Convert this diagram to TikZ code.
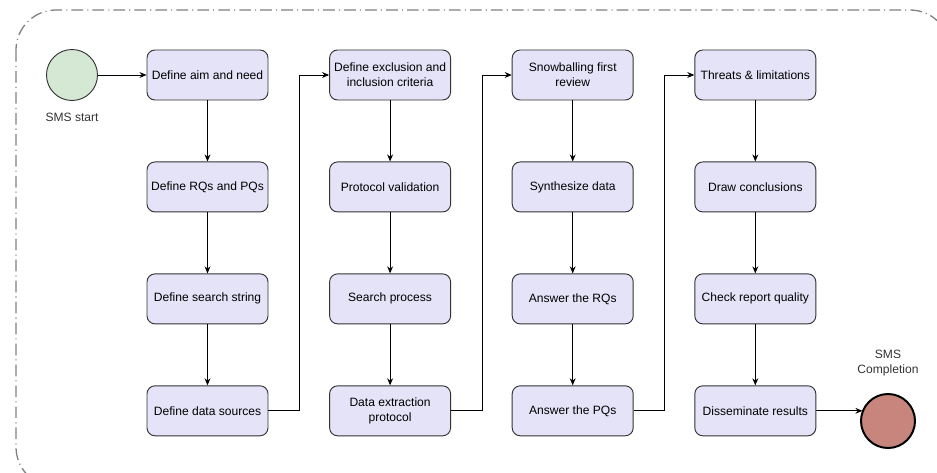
\documentclass[tikz,border=0pt]{standalone}
\usepackage{fontspec}
\setmainfont{Liberation Sans}
\usepackage{tikz}
\usetikzlibrary{arrows.meta,positioning,shapes.geometric}
\usepackage{xcolor}
\definecolor{stepfill}{HTML}{E5E3F7}
\definecolor{stepline}{HTML}{333333}
\definecolor{startfill}{HTML}{D5E8D4}
\definecolor{endfill}{HTML}{C8857E}
\definecolor{frame}{HTML}{808080}

\tikzset{
  stepbox/.style={draw=stepline, fill=stepfill, rounded corners=0.24cm, line width=0.8pt,
    minimum width=3.63cm, minimum height=1.5cm, align=center,
    font=\fontsize{10.3}{12.6}\selectfont},
  flow/.style={-{Stealth[length=6pt,width=5pt]}, line width=0.8pt},
  lbl/.style={font=\fontsize{10.3}{12.6}\selectfont, text=stepline, align=center}
}

\begin{document}
\begin{tikzpicture}[node distance=1.83cm and 1.82cm]
  \useasboundingbox (0,0) rectangle (28.11,14.16);
  \draw[frame, line width=1.1pt, rounded corners=1.2cm,
        dash pattern=on 10pt off 3.5pt on 0.9pt off 3.5pt] (0.48,13.86) rectangle (28.5,-0.45);

  % start and end
  \node[circle, draw=stepline, fill=startfill, line width=0.8pt, minimum size=1.53cm] (start) at (2.16,11.91) {};
  \node[lbl, below=0.25cm of start] (startlbl) {SMS start};

  % column 1
  \node[stepbox] (aim) at (6.225,11.91) {Define aim and need};
  \node[stepbox, below=of aim] (rqs) {Define RQs and PQs};
  \node[stepbox, below=of rqs] (str) {Define search string};
  \node[stepbox, below=of str] (src) {Define data sources};

  % column 2
  \node[stepbox, right=of aim] (crit) {Define exclusion and\\inclusion criteria};
  \node[stepbox, below=of crit] (valid) {Protocol validation};
  \node[stepbox, below=of valid] (search) {Search process};
  \node[stepbox, below=of search] (extr) {Data extraction\\protocol};

  % column 3
  \node[stepbox, right=of crit] (snow) {Snowballing first\\review};
  \node[stepbox, below=of snow] (synth) {Synthesize data};
  \node[stepbox, below=of synth] (arq) {Answer the RQs};
  \node[stepbox, below=of arq] (apq) {Answer the PQs};

  % column 4
  \node[stepbox, right=of snow] (threat) {Threats \& limitations};
  \node[stepbox, below=of threat] (concl) {Draw conclusions};
  \node[stepbox, below=of concl] (qual) {Check report quality};
  \node[stepbox, below=of qual] (diss) {Disseminate results};

  \node[circle, draw=black, fill=endfill, line width=1.7pt, minimum size=1.62cm] (end) at (26.64,1.53) {};
  \node[lbl, above=0.4cm of end] (endlbl) {SMS\\Completion};

  % connectors
  \draw[flow] (start) -- (aim);
  \draw[flow] (aim) -- (rqs);
  \draw[flow] (rqs) -- (str);
  \draw[flow] (str) -- (src);
  \draw[flow] (src.east) -- ++(0.93,0) |- (crit.west);
  \draw[flow] (crit) -- (valid);
  \draw[flow] (valid) -- (search);
  \draw[flow] (search) -- (extr);
  \draw[flow] (extr.east) -- ++(0.93,0) |- (snow.west);
  \draw[flow] (snow) -- (synth);
  \draw[flow] (synth) -- (arq);
  \draw[flow] (arq) -- (apq);
  \draw[flow] (apq.east) -- ++(0.93,0) |- (threat.west);
  \draw[flow] (threat) -- (concl);
  \draw[flow] (concl) -- (qual);
  \draw[flow] (qual) -- (diss);
  \draw[flow] (diss.east) -- (diss.east -| end.156);
\end{tikzpicture}
\end{document}
